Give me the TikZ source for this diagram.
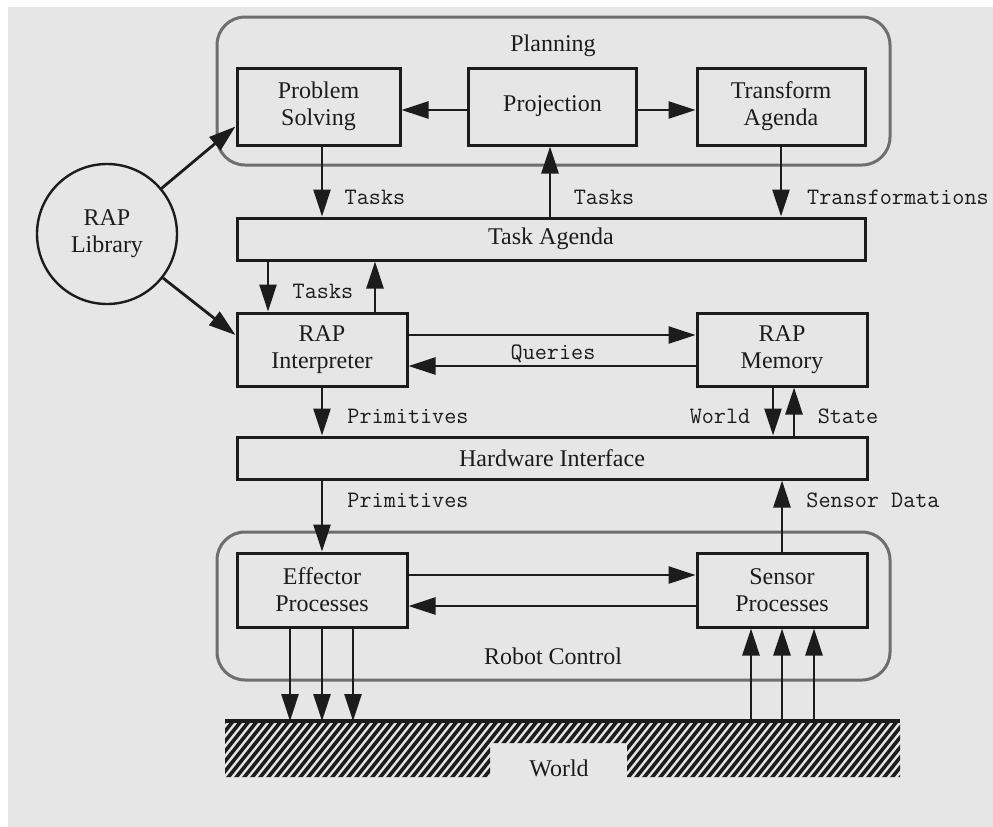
\documentclass[tikz,border=0pt]{standalone}
\usepackage{fontspec}
\setmainfont{Liberation Serif}
\usetikzlibrary{arrows.meta}
\definecolor{bg}{HTML}{E6E6E6}
\definecolor{frame}{HTML}{6E6E6E}
\definecolor{ink}{HTML}{1C1C1C}

\begin{document}
\begin{tikzpicture}[x=1pt,y=-1pt,
  box/.style={draw=ink, line width=3pt, align=center, inner sep=0pt,
    font=\fontsize{24}{27}\selectfont, text=ink},
  lbl/.style={font=\ttfamily\fontsize{23.5}{26}\selectfont, text=ink, inner sep=0pt},
  ttl/.style={font=\fontsize{24}{27}\selectfont, text=ink, inner sep=0pt},
  arr/.style={draw=ink, line width=2.8pt, -{Triangle[length=27pt,width=17pt]}},
  group/.style={draw=frame, line width=3pt, rounded corners=28pt},
  hatch/.style={draw=ink, line width=3.6pt}]

% canvas
\useasboundingbox (0,0) rectangle (993,827);
\fill[white] (0,0) rectangle (993,827);
\fill[bg] (8,7) rectangle (993,827);

% group frames
\draw[group] (217,17) rectangle (890,165);
\node[ttl] (planning) at (553,46) {Planning};
\draw[group] (217,532) rectangle (890,680);
\node[ttl] (robotctl) at (553,656) {Robot Control};

% planning layer
\node[box, minimum width=163pt, minimum height=77pt] (ps) at (318.5,106.5) {Problem\\Solving};
\node[box, minimum width=168pt, minimum height=77pt] (proj) at (552.5,106.5) {Projection};
\node[box, minimum width=168pt, minimum height=77pt] (ta) at (781,106.5) {Transform\\Agenda};

% library
\node[circle, draw=ink, line width=2.4pt, minimum size=140pt, inner sep=0pt, align=center,
  font=\fontsize{24}{27}\selectfont, text=ink] (lib) at (107,234) {RAP\\Library};

% agenda and interpreter layer
\node[box, minimum width=628pt, minimum height=42pt] (agenda) at (551,239) {Task Agenda};
\node[box, minimum width=170pt, minimum height=73pt] (interp) at (322,349.5) {RAP\\Interpreter};
\node[box, minimum width=170pt, minimum height=73pt] (mem) at (782,349.5) {RAP\\Memory};
\node[box, minimum width=630pt, minimum height=42pt] (hw) at (552,458) {Hardware Interface};

% robot control layer
\node[box, minimum width=170pt, minimum height=74pt] (eff) at (322,590) {Effector\\Processes};
\node[box, minimum width=170pt, minimum height=74pt] (sen) at (782,590) {Sensor\\Processes};

% world ground
\coordinate (gl) at (225,721);
\coordinate (gr) at (900,721);
\begin{scope}
  \clip (225,723) -- (900,723) -- (900,777) -- (627,777) -- (627,743)
        -- (490,743) -- (490,777) -- (225,777) -- cycle;
  \foreach \k in {0,...,92} {
    \draw[hatch] ({170+8*\k},780) -- ({170+8*\k+48},720);
  }
\end{scope}
\draw[ink, line width=4.5pt] (gl) -- (gr);
\node[ttl] (world) at (559,768) {World};

% planning connectors
\draw[arr] (proj.west |- 0,110) -- (ps.east |- 0,110);
\draw[arr] (proj.east |- 0,110) -- (ta.west |- 0,110);
\draw[arr] (lib) -- ([yshift=20pt]ps.south west);
\draw[arr] (lib) -- ([yshift=14.5pt]interp.west);

\draw[arr] (322,0 |- ps.south) -- (322,0 |- agenda.north);
\draw[arr] (550,0 |- agenda.north) -- (550,0 |- proj.south);
\draw[arr] (ta.south) -- (ta.south |- agenda.north);
\node[lbl] (t1) at (375,197) {Tasks};
\node[lbl] (t2) at (604,197) {Tasks};
\node[lbl] (tr) at (898,197) {Transformations};

% agenda / interpreter
\draw[arr] (268,0 |- agenda.south) -- (268,0 |- interp.north);
\draw[arr] (375,0 |- interp.north) -- (375,0 |- agenda.south);
\node[lbl] (t3) at (323,291) {Tasks};

\draw[arr] (interp.east |- 0,335) -- (mem.west |- 0,335);
\draw[arr] (mem.west |- 0,366) -- (interp.east |- 0,366);
\node[lbl] (q) at (553,354) {Queries};

% interface
\draw[arr] (interp.south) -- (interp.south |- hw.north);
\node[lbl] (p1) at (408,416) {Primitives};
\draw[arr] (773,0 |- mem.south) -- (773,0 |- hw.north);
\draw[arr] (794,0 |- hw.north) -- (794,0 |- mem.south);
\node[lbl] (w) at (720,416) {World};
\node[lbl] (s) at (848,416) {State};

\draw[arr] (322,0 |- hw.south) -- (eff.north);
\node[lbl] (p2) at (408,500) {Primitives};
\draw[arr] (sen.north) -- (sen.north |- hw.south);
\node[lbl] (sd) at (873,500) {Sensor Data};

% robot control
\draw[arr] (eff.east |- 0,575) -- (sen.west |- 0,575);
\draw[arr] (sen.west |- 0,606) -- (eff.east |- 0,606);

\foreach \dx in {-32,0,31} {
  \draw[arr] ([xshift=\dx pt]eff.south) -- ([xshift=\dx pt]eff.south |- gl);
}
\foreach \dx in {-31,0,32} {
  \draw[arr] ([xshift=\dx pt]sen.south |- gl) -- ([xshift=\dx pt]sen.south);
}
\end{tikzpicture}
\end{document}
